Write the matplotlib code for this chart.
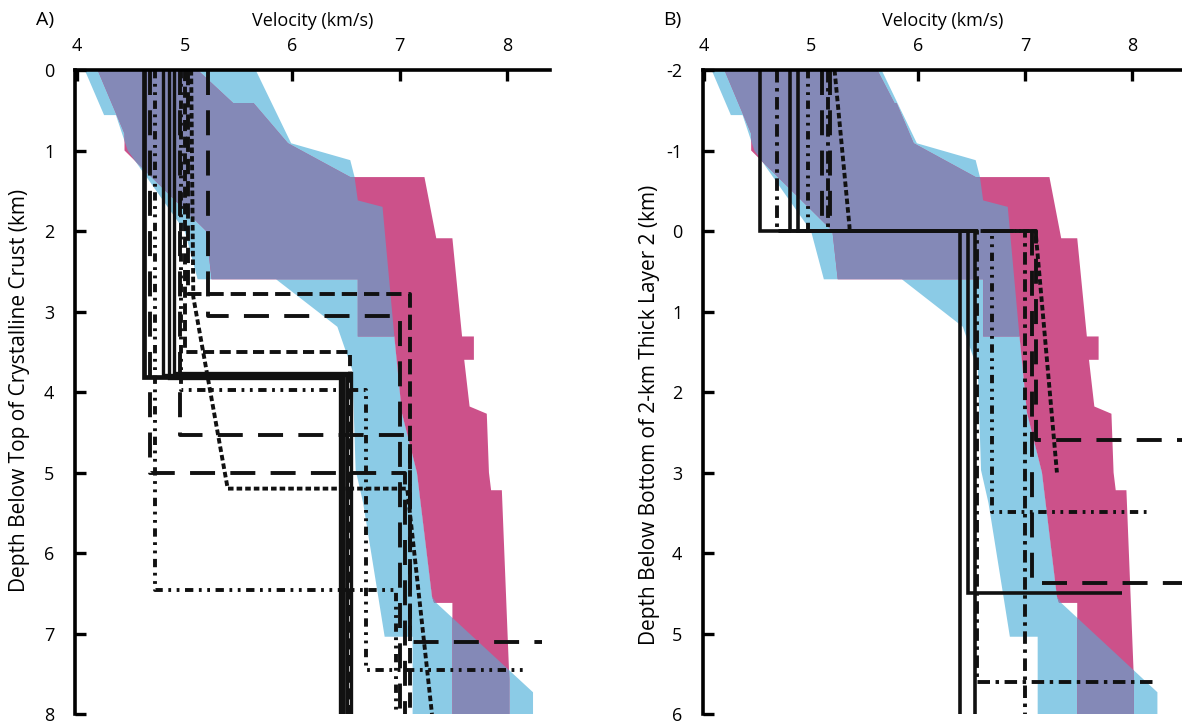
import matplotlib
matplotlib.use("Agg")
import matplotlib.pyplot as plt, numpy as np
from matplotlib.patches import Polygon

plt.rcParams['font.family'] = ['Open Sans', 'DejaVu Sans']
plt.rcParams['lines.scale_dashes'] = False
plt.rcParams['axes.unicode_minus'] = False

BLUE = "#8bcbe6"
PINK = "#cc518a"
PURPLE = "#8489b7"
INK = "#111111"

# reference bands, depth below top of crust (km)
blue_v = [4.07, 5.66, 5.99, 6.54, 6.58, 6.61, 6.84, 6.95, 7.02, 7.16, 7.30, 7.34, 8.24, 8.24,
          7.12, 7.12, 6.86, 6.80, 6.66, 6.59, 6.56, 6.42, 5.85, 5.12, 5.00, 4.47, 4.36, 4.25]
blue_d = [0, 0, 0.91, 1.12, 1.33, 1.62, 1.70, 3.31, 4.26, 5.0, 6.54, 6.62, 7.73, 8.0,
          8.0, 7.04, 7.04, 6.54, 5.38, 4.97, 3.73, 3.19, 2.6, 2.6, 2.0, 1.0, 0.56, 0.56]
pink_v = [4.19, 5.12, 5.45, 5.64, 5.96, 6.54, 7.23, 7.34, 7.49, 7.58, 7.69, 7.69, 7.60, 7.65,
          7.81, 7.83, 7.85, 7.95, 8.02, 8.02, 7.49, 7.49, 7.32, 7.30, 7.16, 7.02, 6.95, 6.61,
          6.61, 5.25, 5.20, 4.44, 4.44]
pink_d = [0, 0, 0.41, 0.41, 0.91, 1.33, 1.33, 2.09, 2.09, 3.31, 3.31, 3.6, 3.6, 4.18,
          4.27, 5.0, 5.22, 5.22, 7.57, 8.0, 8.0, 6.62, 6.62, 6.54, 5.0, 4.26, 3.31, 3.31,
          2.6, 2.6, 2.0, 1.0, 0.79]
# panel B band reaches further right near the top
pinkB_v = [4.19, 5.62, 5.78, 5.80] + pink_v[4:]
pinkB_d = [0, 0, 0.41, 0.41] + pink_d[4:]

# line styles (points)
LONG = (0, (18, 11))
MED = (0, (11, 5))
SHORT = (0, (8, 4))
BEADS = (0, (4, 2.2))
DASHDOT = (0, (9, 4, 2.5, 4))
DDOT = (0, (6, 4, 2, 4, 2, 4))

# panel A profiles: velocity, depth
A_lines = [
    ([4.62, 4.62, 6.47, 6.47], [0, 3.81, 3.81, 8], "-", 3.4),
    ([4.80, 4.80, 6.51, 6.51], [0, 3.79, 3.79, 8], "-", 2.4),
    ([4.85, 4.85, 6.44, 6.44], [0, 3.83, 3.83, 8], "-", 2.4),
    ([4.90, 4.90, 6.55, 6.55], [0, 3.77, 3.77, 8], "-", 2.4),
    ([4.72, 4.72, 6.97, 6.97], [0, 6.46, 6.46, 8], DDOT, 2.8),
    ([4.68, 4.68, 7.05, 7.05], [0, 5.01, 5.01, 8], LONG, 2.8),
    ([4.96, 4.96, 7.10, 7.10, 8.32], [0, 4.53, 4.53, 7.11, 7.11], LONG, 2.8),
    ([4.97, 4.97, 6.69, 6.69, 8.15], [0, 3.98, 3.98, 7.45, 7.45], DDOT, 2.8),
    ([5.00, 5.00, 6.54, 6.54], [0, 3.50, 3.50, 8], SHORT, 2.8),
    ([5.03, 5.03, 7.10, 7.10], [0, 2.78, 2.78, 8], MED, 2.8),
    ([5.06, 5.08, 5.40, 7.07, 7.30], [0, 2.82, 5.20, 5.20, 8.0], BEADS, 2.8),
    ([5.22, 5.22, 7.00, 7.00], [0, 3.05, 3.05, 8], LONG, 2.8),
]

# panel B profiles: velocity, depth below layer 2
B_lines = [
    ([4.52, 4.52, 6.39, 6.39], [-2, 0, 0, 6], "-", 2.6),
    ([4.80, 4.80, 6.47, 6.47, 7.91], [-2, 0, 0, 4.5, 4.5], "-", 2.6),
    ([4.88, 4.88, 6.53, 6.53], [-2, 0, 0, 6], "-", 2.6),
    ([4.68, 4.68, 6.55, 6.55, 8.20], [-2, 0, 0, 5.6, 5.6], DASHDOT, 2.8),
    ([4.97, 4.97, 6.69, 6.69, 8.14], [-2, 0, 0, 3.49, 3.49], DDOT, 2.8),
    ([5.16, 5.16, 7.00, 7.00], [-2, 0, 0, 6], DASHDOT, 2.8),
    ([5.18, 5.18, 7.07, 7.07, 8.60], [-2, 0, 0, 4.37, 4.37], LONG, 2.8),
    ([5.10, 5.10, 7.10, 7.10, 8.60], [-2, 0, 0, 2.6, 2.6], LONG, 2.8),
    ([5.22, 5.36, 5.36, 7.10, 7.30], [-2, -0.05, 0, 0, 3.0], BEADS, 2.8),
]


def draw_panel(ax, shift, pv, pd, lines, ylims, yticks):
    b = Polygon(np.column_stack([blue_v, np.array(blue_d) + shift]), closed=True, fc=BLUE, ec="none", zorder=1)
    ax.add_patch(b)
    p = Polygon(np.column_stack([pv, np.array(pd) + shift]), closed=True, fc=PINK, ec="none", zorder=1)
    ax.add_patch(p)
    # overlap of the two bands
    ov = Polygon(np.column_stack([pv, np.array(pd) + shift]), closed=True, fc=PURPLE, ec="none", zorder=2)
    ax.add_patch(ov)
    ov.set_clip_path(b)

    for v, d, ls, lw in lines:
        ax.plot(v, d, color=INK, linestyle=ls, linewidth=lw, zorder=3,
                solid_joinstyle="miter", dash_capstyle="butt", solid_capstyle="butt")

    ax.set_ylim(*ylims)
    ax.set_yticks(yticks)
    ax.xaxis.tick_top()
    ax.xaxis.set_label_position("top")
    ax.set_xticks([4, 5, 6, 7, 8])
    ax.set_xlabel("Velocity (km/s)", fontsize=13, labelpad=8)
    for s in ["right", "bottom"]:
        ax.spines[s].set_visible(False)
    for s in ["left", "top"]:
        ax.spines[s].set_linewidth(2.6)
        ax.spines[s].set_zorder(5)
    ax.tick_params(axis="both", direction="in", length=8, width=2.4, labelsize=13)
    ax.tick_params(axis="x", pad=11)
    ax.tick_params(axis="y", pad=15)


fig = plt.figure(figsize=(11.82, 7.24), dpi=100)
axA = fig.add_axes([0.0635, 0.0138, 0.402, 0.8895])
axA.set_xlim(3.98, 8.40)
draw_panel(axA, 0, pink_v, pink_d, A_lines, (8, 0), range(0, 9))
axB = fig.add_axes([0.5948, 0.0138, 0.4052, 0.8895])
axB.set_xlim(3.99, 8.47)
draw_panel(axB, -2, pinkB_v, pinkB_d, B_lines, (6, -2), range(-2, 7))

fig.text(20 / 1182, 1 - 390 / 724, "Depth Below Top of Crystalline Crust (km)", rotation=90,
         ha="center", va="center", fontsize=15)
fig.text(649 / 1182, 1 - 415 / 724, "Depth Below Bottom of 2-km Thick Layer 2 (km)", rotation=90,
         ha="center", va="center", fontsize=15)
fig.text(45 / 1182, 1 - 20 / 724, "A)", ha="center", va="center", fontsize=14)
fig.text(672 / 1182, 1 - 20 / 724, "B)", ha="center", va="center", fontsize=14)

fig.savefig("out.png", dpi=100)
